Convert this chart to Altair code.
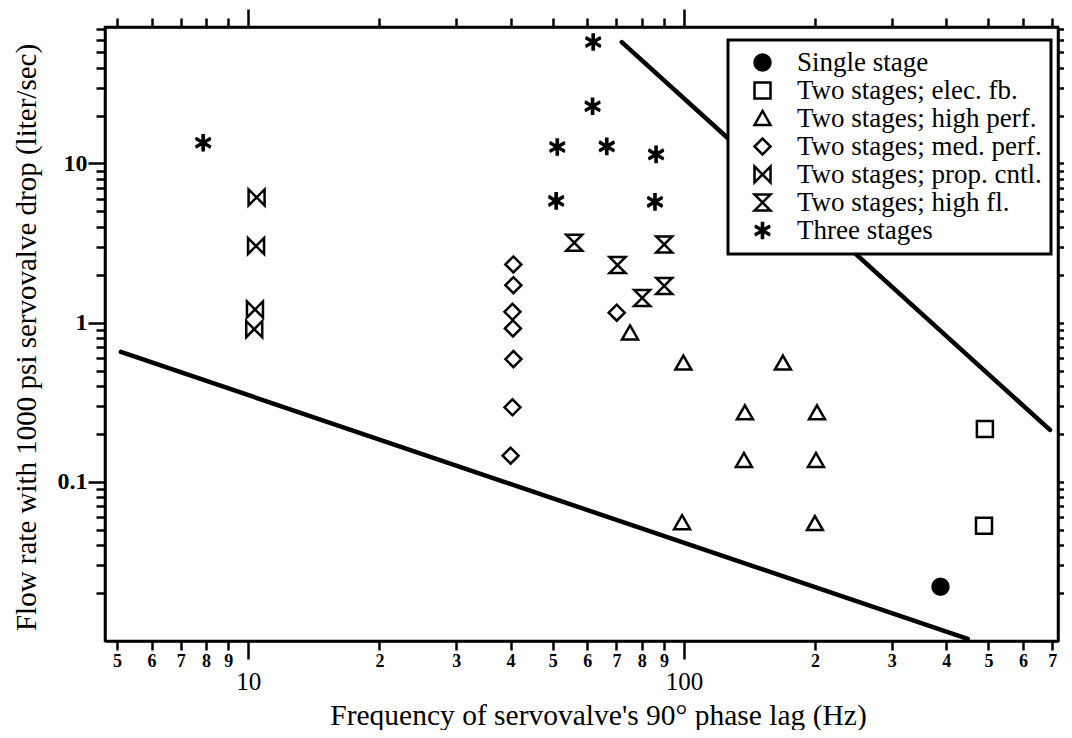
import altair as alt
import pandas as pd

FONT = "Liberation Serif"

categories = ["Single stage", "Two stages; elec. fb.", "Two stages; high perf.",
              "Two stages; med. perf.", "Two stages; prop. cntl.",
              "Two stages; high fl.", "Three stages"]

single_x = [388]
single_y = [0.0219]
elec_x = [490.6, 488.3]
elec_y = [0.215, 0.053]
highperf_x = [75.2, 99.7, 168.7, 138.0, 202, 137.3, 200.9, 99.0, 199.8]
highperf_y = [0.86, 0.556, 0.556, 0.271, 0.271, 0.136, 0.136, 0.0553, 0.0546]
medperf_x = [40.6, 40.6, 40.4, 40.5, 40.6, 40.4, 40.0, 70.1]
medperf_y = [2.32, 1.72, 1.17, 0.92, 0.59, 0.294, 0.146, 1.155]
prop_x = [10.45, 10.42, 10.36, 10.32]
prop_y = [6.12, 3.03, 1.21, 0.91]
highfl_x = [56.0, 90.1, 70.4, 90.1, 80.2]
highfl_y = [3.18, 3.10, 2.30, 1.70, 1.43]
three_x = [7.88, 51.2, 50.9, 61.9, 61.7, 66.5, 86.3, 85.8]
three_y = [13.5, 12.7, 5.82, 57.9, 22.9, 12.8, 11.4, 5.74]

lower_x = [5.1, 448]
lower_y = [0.655, 0.0103]
upper_x = [72.0, 692]
upper_y = [57.9, 0.212]

x_ticks = [5, 6, 7, 8, 9, 10, 20, 30, 40, 50, 60, 70, 80, 90, 100,
           200, 300, 400, 500, 600, 700]
y_ticks = [0.02, 0.03, 0.04, 0.05, 0.06, 0.07, 0.08, 0.09,
           0.1, 0.2, 0.3, 0.4, 0.5, 0.6, 0.7, 0.8, 0.9,
           1, 2, 3, 4, 5, 6, 7, 8, 9,
           10, 20, 30, 40, 50, 60, 70]

asterisk = ("M-0.07,-1.1L-0.07,1.1M0.07,-1.1L0.07,1.1"
            "M-0.95,-0.62L0.95,0.48M-0.95,-0.48L0.95,0.62"
            "M-0.95,0.62L0.95,-0.48M-0.95,0.48L0.95,-0.62")
symbol_shapes = ["circle", "square", "M0,-0.95L1,0.8L-1,0.8Z", "diamond",
                 "M-1,-1L1,1L1,-1L-1,1Z", "M-1,-1L1,-1L-1,1L1,1Z", asterisk]
symbol_fills = ["black", "transparent", "transparent", "transparent",
                "transparent", "transparent", "transparent"]
symbol_strokes = ["black"] * 7

series = [(single_x, single_y), (elec_x, elec_y), (highperf_x, highperf_y),
          (medperf_x, medperf_y), (prop_x, prop_y), (highfl_x, highfl_y),
          (three_x, three_y)]
rows = []
for cat, (xs, ys) in zip(categories, series):
    for xv, yv in zip(xs, ys):
        rows.append({"x": xv, "y": yv, "cat": cat})
pts = pd.DataFrame(rows)

lines = pd.DataFrame(
    [{"x": a, "y": b, "id": "lower"} for a, b in zip(lower_x, lower_y)]
    + [{"x": a, "y": b, "id": "upper"} for a, b in zip(upper_x, upper_y)]
)

xscale = alt.Scale(type="log", domain=[4.69, 722], nice=False)
yscale = alt.Scale(type="log", domain=[0.01, 72], nice=False)

xmaj = "datum.value == 10 || datum.value == 100"
ymaj = "datum.value == 10 || datum.value == 1 || datum.value == 0.1"

common = dict(grid=False, domainColor="black", domainWidth=2.5, tickColor="black",
              tickWidth=2.5, labelColor="black", labelFont=FONT,
              labelFlush=False, labelOverlap=False)

bottom_axis = alt.Axis(
    orient="bottom", values=x_ticks,
    labelExpr="datum.value == 10 || datum.value == 100 ? format(datum.value, 'd') : "
              "format(datum.value / pow(10, floor(log(datum.value) / LN10 + 1e-9)), 'd')",
    tickSize={"condition": {"test": xmaj, "value": 18}, "value": 9},
    labelFontSize={"condition": {"test": xmaj, "value": 25}, "value": 18},
    labelFontWeight={"condition": {"test": xmaj, "value": "normal"}, "value": "bold"},
    labelPadding={"condition": {"test": xmaj, "value": 10}, "value": 2},
    title="Frequency of servovalve's 90° phase lag (Hz)",
    titleFont=FONT, titleFontSize=29.5, titleFontWeight="normal", titleColor="black",
    titleX=493, titleY=83, titleBaseline="alphabetic", titleAlign="center",
    **common)

left_axis = alt.Axis(
    orient="left", values=y_ticks,
    labelExpr="datum.value == 10 ? '10' : datum.value == 1 ? '1' : datum.value == 0.1 ? '0.1' : ''",
    tickSize={"condition": {"test": ymaj, "value": 17}, "value": 9},
    labelFontSize=24, labelFontWeight="bold", labelPadding=1,
    title="Flow rate with 1000 psi servovalve drop (liter/sec)",
    titleFont=FONT, titleFontSize=29, titleFontWeight="normal", titleColor="black",
    titleX=-79, titleY=310, titleAngle=-90, titleBaseline="middle", titleAlign="center",
    **common)

top_axis = alt.Axis(
    orient="top", values=x_ticks, labels=False, title="",
    tickSize={"condition": {"test": xmaj, "value": 18}, "value": 9},
    **common)

right_axis = alt.Axis(
    orient="right", values=y_ticks, labels=False, title="",
    tickSize={"condition": {"test": ymaj, "value": 17}, "value": 9},
    **common)

legend = alt.Legend(orient="none", legendX=623, legendY=13, title=None)

line_layer = alt.Chart(lines).mark_line(color="black", strokeWidth=4.5, strokeCap="round").encode(
    x=alt.X("x:Q", scale=xscale, axis=top_axis),
    y=alt.Y("y:Q", scale=yscale, axis=right_axis),
    detail="id:N",
)

point_layer = alt.Chart(pts).mark_point(size=256, strokeWidth=2.5, opacity=1).encode(
    x=alt.X("x:Q", scale=xscale, axis=bottom_axis),
    y=alt.Y("y:Q", scale=yscale, axis=left_axis),
    shape=alt.Shape("cat:N", scale=alt.Scale(domain=categories, range=symbol_shapes),
                    legend=legend, title=None),
    fill=alt.Fill("cat:N", scale=alt.Scale(domain=categories, range=symbol_fills),
                  legend=legend, title=None),
    stroke=alt.Stroke("cat:N", scale=alt.Scale(domain=categories, range=symbol_strokes),
                      legend=legend, title=None),
)

chart = alt.layer(line_layer, point_layer).resolve_scale(
    x="independent", y="independent"
).properties(
    width=953, height=614,
    padding={"left": 97, "top": 19, "right": 6, "bottom": 89},
    autosize=alt.AutoSizeParams(type="none"),
    background="white",
).configure_view(
    stroke="black", strokeWidth=2.5
).configure_legend(
    padding=9, strokeColor="black", strokeWidth=3, fillColor="white",
    labelFont=FONT, labelFontSize=27, labelColor="black", labelLimit=400,
    symbolOffset=12, labelOffset=21, rowPadding=0,
    symbolStrokeWidth=2.5, symbolStrokeColor="black", symbolSize=256,
)

chart.save("out.html", embed_options={"renderer": "svg", "actions": False})
